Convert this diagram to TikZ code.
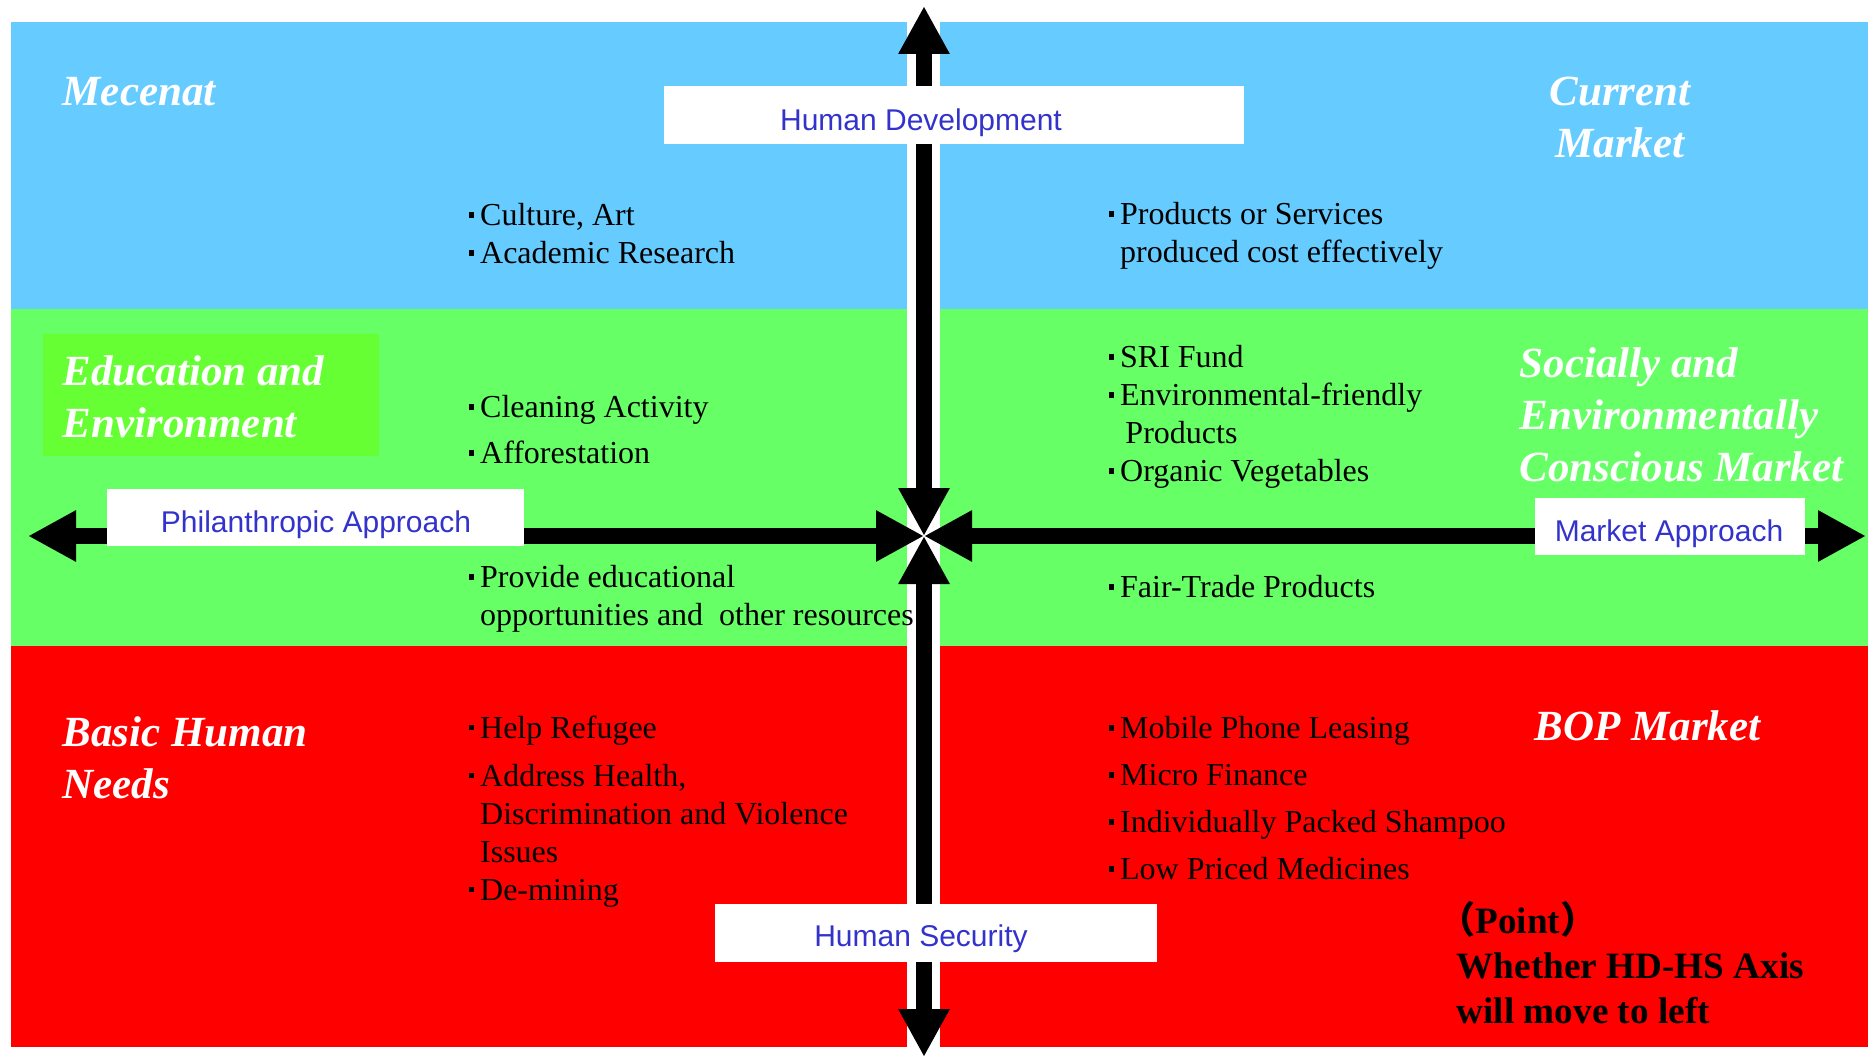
\documentclass[tikz,border=0pt]{standalone}
\usepackage{fontspec}
\setmainfont{Liberation Serif}
\setsansfont{Liberation Sans}
\newfontfamily\cjkfont{Noto Sans CJK JP}
\usetikzlibrary{arrows.meta}

\definecolor{skyband}{RGB}{102,204,255}
\definecolor{greenband}{RGB}{102,255,102}
\definecolor{redband}{RGB}{255,0,0}
\definecolor{edubox}{RGB}{102,255,51}
\definecolor{axisblue}{RGB}{51,51,204}

\newcommand{\blt}{\rule[0.55ex]{2.7pt}{2.7pt}\hspace{3pt}}
\newcommand{\bltgap}{\phantom{\blt}}

\tikzset{every picture/.style={line width=0.75pt}}
\tikzset{
    quadtitle/.style={text=white, font=\fontsize{21.5}{26}\selectfont\bfseries\itshape, align=left, inner sep=0pt, anchor=north west},
    itemlist/.style={font=\fontsize{16}{19}\selectfont, align=left, inner sep=0pt, anchor=north west},
    labelbox/.style={fill=white, inner sep=0pt},
    axistext/.style={text=axisblue, font=\sffamily\fontsize{15}{17}\selectfont, inner sep=0pt},
    axisarrow/.style={line width=8pt, {Triangle[length=24pt,width=24pt]}-{Triangle[length=24pt,width=24pt]}},
}

\begin{document}
\begin{tikzpicture}[x=0.5pt,y=0.5pt,yscale=-1,xscale=1]
        \useasboundingbox (0,0) rectangle (1868,1059);
        % bands
        \fill[skyband] (11,22) rectangle (907,309);
        \fill[skyband] (940,22) rectangle (1868,309);
        \fill[greenband] (11,309) rectangle (907,646);
        \fill[greenband] (940,309) rectangle (1868,646);
        \fill[redband] (11,646) rectangle (907,1047);
        \fill[redband] (940,646) rectangle (1868,1047);
        \fill[edubox] (43,334) rectangle (379,456);

        % axes
        \coordinate (origin) at (924,536);
        \coordinate (hdtip) at (924,6);
        \coordinate (hstip) at (924,1057);
        \coordinate (phtip) at (28,536);
        \coordinate (mktip) at (1866,536);
        \draw[axisarrow] (origin) -- (hdtip);
        \draw[axisarrow] (origin) -- (hstip);
        \draw[axisarrow] (origin) -- (phtip);
        \draw[axisarrow] (origin) -- (mktip);

        % axis labels
        \node[labelbox, minimum width=290pt, minimum height=29pt] (hdbox) at (954,115) {};
        \node[axistext] (hdtext) at (921,123) {Human Development};
        \node[labelbox, minimum width=208.5pt, minimum height=28.5pt] (phbox) at (315.5,517.5) {};
        \node[axistext] (phtext) at (316,525) {Philanthropic Approach};
        \node[labelbox, minimum width=135pt, minimum height=28.5pt] (mkbox) at (1670,526.5) {};
        \node[axistext] (mktext) at (1669,534) {Market Approach};
        \node[labelbox, minimum width=221pt, minimum height=29pt] (hsbox) at (936,933) {};
        \node[axistext] (hstext) at (921,939) {Human Security};

        % quadrant titles
        \node[quadtitle] (mecenat) at (62,77) {Mecenat};
        \node[quadtitle, align=center, anchor=north] (current) at (1620,76) {Current\\Market};
        \node[quadtitle] (education) at (62,355) {Education and\\Environment};
        \node[quadtitle] (conscious) at (1519,347) {Socially and\\Environmentally\\Conscious Market};
        \node[quadtitle] (basic) at (62,716) {Basic Human\\Needs};
        \node[quadtitle] (bop) at (1534,710) {BOP Market};

        % items
        \node[itemlist] (culture) at (468,203) {\blt Culture, Art\\ \blt Academic Research};
        \node[itemlist] (cleaning) at (468,395) {\blt Cleaning Activity\\[4pt] \blt Afforestation};
        \node[itemlist] (provide) at (468,565) {\blt Provide educational\\ \bltgap opportunities and\ \ other resources};
        \node[itemlist] (refugee) at (468,715) {\blt Help Refugee\\[5pt] \blt Address Health,\\ \bltgap Discrimination and Violence\\ \bltgap Issues\\ \blt De-mining};
        \node[itemlist] (products) at (1108,202) {\blt Products or Services\\ \bltgap produced cost effectively};
        \node[itemlist] (sri) at (1108,345) {\blt SRI Fund\\ \blt Environmental-friendly\\ \bltgap\,Products\\ \blt Organic Vegetables};
        \node[itemlist] (fairtrade) at (1108,575) {\blt Fair-Trade Products};
        \node[itemlist] (mobile) at (1108,716) {\blt Mobile Phone Leasing\\[4.5pt] \blt Micro Finance\\[4.5pt] \blt Individually Packed Shampoo\\[4.5pt] \blt Low Priced Medicines};

        % point
        \node[itemlist, font=\fontsize{18.6}{22.4}\selectfont\bfseries] (point) at (1456,901) {\hspace*{-0.5em}{\cjkfont （}Point{\cjkfont ）}\\Whether HD-HS Axis\\will move to left};

    \end{tikzpicture}
\end{document}
